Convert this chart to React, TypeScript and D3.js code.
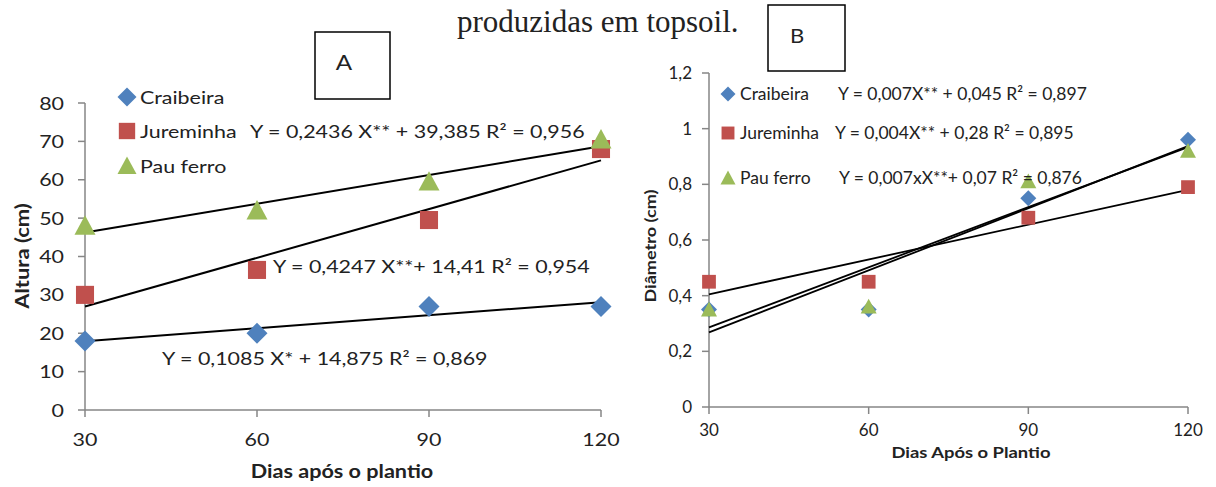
import React from "react";
import * as d3 from "d3";

const days = [30, 60, 90, 120];
const seriesNames = ["Craibeira", "Jureminha", "Pau ferro"];
const colors = ["#4F81BD", "#C0504D", "#9BBB59"];
const shapes = ["diamond", "square", "triangle"];

// Chart A – Altura (cm)
const alturaCraibeira = [18, 20, 27, 27];
const alturaJureminha = [30, 36.5, 49.5, 68];
const alturaPauFerro = [48, 52, 59.5, 70.5];
const alturaTicks = [0, 10, 20, 30, 40, 50, 60, 70, 80];
const alturaEquations = [
  "Y = 0,1085 X* + 14,875  R² = 0,869",
  "Y = 0,4247 X**+ 14,41  R² = 0,954",
  "Y = 0,2436 X** + 39,385 R² = 0,956",
];

// Chart B – Diâmetro (cm)
const diamCraibeira = [0.35, 0.35, 0.75, 0.96];
const diamJureminha = [0.45, 0.45, 0.68, 0.79];
const diamPauFerro = [0.35, 0.36, 0.81, 0.92];
const diamTicks = [0, 0.2, 0.4, 0.6, 0.8, 1, 1.2];
const diamEquations = [
  "Y = 0,007X** + 0,045 R² = 0,897",
  "Y = 0,004X** + 0,28 R² = 0,895",
  "Y = 0,007xX**+ 0,07 R² = 0,876",
];

const FONT = "Lato, 'Open Sans', sans-serif";
const AXIS = "#868686";
const TXT = "#222";

function linreg(xs: number[], ys: number[]) {
  const mx = d3.mean(xs)!;
  const my = d3.mean(ys)!;
  let num = 0, den = 0;
  xs.forEach((x, i) => {
    num += (x - mx) * (ys[i] - my);
    den += (x - mx) * (x - mx);
  });
  const b = num / den;
  const a = my - b * mx;
  return (x: number) => a + b * x;
}

function T({ x, y, sx = 1, rot = 0, size, anchor = "start", bold = false, family, children }: any) {
  return (
    <text
      transform={`translate(${x},${y})${rot ? ` rotate(${rot})` : ""} scale(${sx},1)`}
      fontSize={size}
      textAnchor={anchor}
      fontWeight={bold ? "bold" : "normal"}
      fontFamily={family}
      fill={TXT}
    >
      {children}
    </text>
  );
}

function Marker({ shape, x, y, s, color }: { shape: string; x: number; y: number; s: number; color: string }) {
  if (shape === "diamond") {
    const h = s / 2;
    return <path d={`M${x},${y - h}L${x + h},${y}L${x},${y + h}L${x - h},${y}Z`} fill={color} />;
  }
  if (shape === "square") {
    const h = s * 0.43;
    return <rect x={x - h} y={y - h} width={2 * h} height={2 * h} fill={color} />;
  }
  const h = s / 2;
  return <path d={`M${x},${y - h}L${x + h},${y + h * 0.85}L${x - h},${y + h * 0.85}Z`} fill={color} />;
}

export default function App() {
  // Chart A scales
  const xA = d3.scaleLinear().domain([30, 120]).range([85, 601]);
  const yA = d3.scaleLinear().domain([0, 80]).range([410, 103]);
  const dataA = [alturaCraibeira, alturaJureminha, alturaPauFerro];

  // Chart B scales
  const xB = d3.scaleLinear().domain([30, 120]).range([709, 1188]);
  const yB = d3.scaleLinear().domain([0, 1.2]).range([407, 73]);
  const dataB = [diamCraibeira, diamJureminha, diamPauFerro];

  const fmtB = (v: number) => String(+v.toFixed(1)).replace(".", ",");
  const line = (f: (x: number) => number, xs: any, ys: any) =>
    d3.line<number>().x((d) => xs(d)).y((d) => ys(f(d)))([30, 120]) as string;

  const SA = 1.19; // horizontal stretch of chart A texts
  const legA = [97, 131, 166];
  const eqA = [
    { x: 162, y: 358 },
    { x: 273, y: 266 },
    { x: 250, y: 131 },
  ];
  const legB = [94, 133, 178];
  const eqBx = [838, 835, 839];

  return (
    <svg
      width={1216}
      height={487}
      style={{ position: "absolute", left: 0, top: 0, background: "#fff" }}
      fontFamily={FONT}
    >
      <rect width={1216} height={487} fill="#fff" />
      <T x={457} y={32} size={31} family="'Liberation Serif', 'Times New Roman', serif">
        produzidas em topsoil.
      </T>

      {/* ---------- Chart A ---------- */}
      <rect x={315} y={32} width={75} height={67} fill="#fff" stroke="#000" strokeWidth={1.5} />
      <T x={344} y={70} size={22} anchor="middle" sx={1.1}>A</T>

      <line x1={xA(30)} x2={xA(30)} y1={yA(80)} y2={yA(0)} stroke={AXIS} strokeWidth={1.5} />
      <line x1={xA(30)} x2={xA(120)} y1={yA(0)} y2={yA(0)} stroke={AXIS} strokeWidth={1.5} />
      {alturaTicks.map((t) => (
        <g key={"ya" + t}>
          <line x1={xA(30) - 7} x2={xA(30)} y1={yA(t)} y2={yA(t)} stroke={AXIS} strokeWidth={1.5} />
          <T x={xA(30) - 21} y={yA(t) + 6.5} size={18} anchor="end" sx={SA}>{t}</T>
        </g>
      ))}
      {days.map((d) => (
        <g key={"xa" + d}>
          <line x1={xA(d)} x2={xA(d)} y1={yA(0)} y2={yA(0) + 7} stroke={AXIS} strokeWidth={1.5} />
          <T x={xA(d)} y={yA(0) + 36} size={18} anchor="middle" sx={SA}>{d}</T>
        </g>
      ))}
      <T x={342} y={478} size={18} anchor="middle" bold sx={1.2}>Dias após o plantio</T>
      <T x={29} y={256} rot={-90} size={18} anchor="middle" bold sx={1.22}>Altura (cm)</T>

      {dataA.map((vals, i) => (
        <path key={"ta" + i} d={line(linreg(days, vals), xA, yA)} stroke="#000" strokeWidth={2} fill="none" />
      ))}
      {dataA.map((vals, i) =>
        vals.map((v, j) => (
          <Marker key={`ma${i}-${j}`} shape={shapes[i]} x={xA(days[j])} y={yA(v)} s={21} color={colors[i]} />
        ))
      )}
      {seriesNames.map((n, i) => (
        <g key={"la" + i}>
          <Marker shape={shapes[i]} x={127} y={legA[i]} s={19} color={colors[i]} />
          <T x={140} y={legA[i] + 6.5} size={18} sx={SA}>{n}</T>
        </g>
      ))}
      {alturaEquations.map((e, i) => (
        <T key={"ea" + i} x={eqA[i].x} y={eqA[i].y + 6.5} size={18} sx={SA}>{e}</T>
      ))}

      {/* ---------- Chart B ---------- */}
      <rect x={768} y={5} width={77} height={66} fill="#fff" stroke="#000" strokeWidth={1.5} />
      <T x={797} y={43} size={20} anchor="middle" sx={1.1}>B</T>

      <line x1={xB(30)} x2={xB(30)} y1={yB(1.2)} y2={yB(0)} stroke={AXIS} strokeWidth={1.5} />
      <line x1={xB(30)} x2={xB(120)} y1={yB(0)} y2={yB(0)} stroke={AXIS} strokeWidth={1.5} />
      {diamTicks.map((t) => (
        <g key={"yb" + t}>
          <line x1={xB(30) - 7} x2={xB(30)} y1={yB(t)} y2={yB(t)} stroke={AXIS} strokeWidth={1.5} />
          <T x={xB(30) - 17} y={yB(t) + 6} size={17} anchor="end">{fmtB(t)}</T>
        </g>
      ))}
      {days.map((d) => (
        <g key={"xb" + d}>
          <line x1={xB(d)} x2={xB(d)} y1={yB(0)} y2={yB(0) + 7} stroke={AXIS} strokeWidth={1.5} />
          <T x={xB(d)} y={yB(0) + 29} size={17} anchor="middle">{d}</T>
        </g>
      ))}
      <T x={971} y={458} size={16} anchor="middle" bold sx={1.15}>Dias Após o Plantio</T>
      <T x={656} y={246} rot={-90} size={16} anchor="middle" bold sx={1.13}>Diâmetro (cm)</T>

      {dataB.map((vals, i) => (
        <path key={"tb" + i} d={line(linreg(days, vals), xB, yB)} stroke="#000" strokeWidth={1.8} fill="none" />
      ))}
      {dataB.map((vals, i) =>
        vals.map((v, j) => (
          <Marker key={`mb${i}-${j}`} shape={shapes[i]} x={xB(days[j])} y={yB(v)} s={16} color={colors[i]} />
        ))
      )}
      {seriesNames.map((n, i) => (
        <g key={"lb" + i}>
          <Marker shape={shapes[i]} x={728} y={legB[i]} s={15} color={colors[i]} />
          <T x={740} y={legB[i] + 6} size={17.5}>{n}</T>
        </g>
      ))}
      {diamEquations.map((e, i) => (
        <T key={"eb" + i} x={eqBx[i]} y={legB[i] + 6} size={17.5}>{e}</T>
      ))}
    </svg>
  );
}
